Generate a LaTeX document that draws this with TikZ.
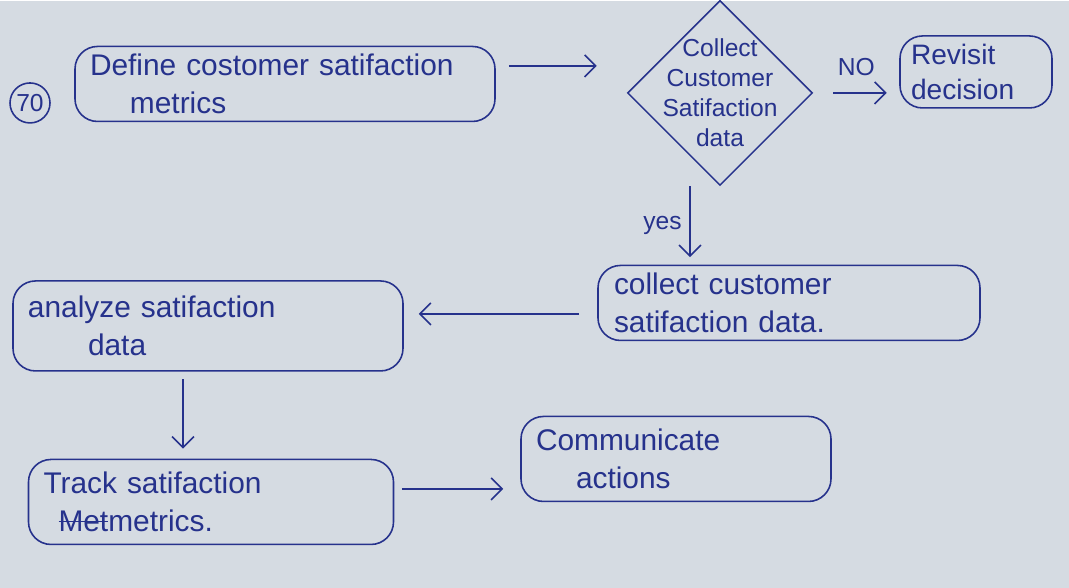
\documentclass[tikz,border=0pt]{standalone}
\usepackage{fontspec}
\setmainfont{Liberation Sans}
\usetikzlibrary{shapes.geometric,arrows.meta}
\definecolor{ink}{RGB}{38,50,140}
\definecolor{paper}{RGB}{213,219,226}
\newcommand{\crossout}[1]{\setbox0\hbox{#1}\rlap{\rule[0.6ex]{\wd0}{0.7pt}}\box0}
\begin{document}
\begin{tikzpicture}[scale=1.0,
    font=\fontsize{17}{22}\selectfont,
    >={Straight Barb[length=2.2mm, width=4.4mm]},
    box/.style={draw=ink, text=ink, line width=0.9pt, rounded corners=0.45cm,
      inner xsep=0.3cm, inner ysep=0pt, align=left},
    arr/.style={->, draw=ink, line width=0.9pt},
  ]
  % paper
  \fill[paper] (0,0) rectangle (21.38,11.74);
  % number
  \node[draw=ink, text=ink, circle, line width=0.9pt, minimum size=0.8cm,
    inner sep=0pt, font=\fontsize{14}{16}\selectfont] (num) at (0.6,9.7) {70};
  % steps
  \node[box, minimum width=8.4cm, minimum height=1.5cm, text width=7.8cm]
    (define) at (5.7,10.08) {Define costomer satifaction\\\hspace*{0.8cm}metrics};
  \node[draw=ink, line width=0.9pt, diamond, aspect=1, minimum size=3.7cm,
    inner sep=0pt,
    label={[text=ink, align=center, font=\fontsize{14}{17}\selectfont]center:Collect\\Customer\\Satifaction\\data}]
    (decide) at (14.4,9.9) {};
  \node[box, minimum width=3.04cm, minimum height=1.44cm, text width=2.6cm,
    inner xsep=0.22cm, font=\fontsize{16}{20}\selectfont]
    (revisit) at (19.52,10.32) {Revisit\\decision};
  \node[box, minimum width=7.64cm, minimum height=1.5cm, text width=7.0cm]
    (collect) at (15.78,5.7) {collect customer\\satifaction data.};
  \node[box, minimum width=7.78cm, minimum height=1.8cm, text width=7.2cm]
    (analyze) at (4.16,5.24) {analyze satifaction\\\hspace*{1.2cm}data};
  \node[box, minimum width=7.26cm, minimum height=1.7cm, text width=6.7cm]
    (track) at (4.22,1.72) {Track satifaction\\\hspace*{0.3cm}\crossout{Met}metrics.};
  \node[box, minimum width=6.16cm, minimum height=1.7cm, text width=5.6cm]
    (comm) at (13.52,2.58) {Communicate\\\hspace*{0.8cm}actions};
  % connectors
  \draw[arr, shorten <=0.26cm, shorten >=0.6cm]
    ([yshift=3.6mm]define.east) -- ([yshift=3.6mm]define.east -| decide.west);
  \draw[arr, shorten <=0.4cm, shorten >=0.25cm]
    (decide.east) -- (decide.east -| revisit.west)
    node[midway, above=6pt, text=ink, font=\fontsize{14}{16}\selectfont] {NO};
  \draw[arr, shorten >=0.15cm]
    ([xshift=-6mm]decide.south) -- ([xshift=-6mm]decide.south |- collect.north)
    node[midway, left=1pt, text=ink, font=\fontsize{14}{16}\selectfont] {yes};
  \draw[arr, shorten <=0.36cm, shorten >=0.3cm]
    ([yshift=-2.2mm]collect.west) -- ([yshift=-2.2mm]collect.west -| analyze.east);
  \draw[arr, shorten <=0.15cm, shorten >=0.2cm]
    ([xshift=-5mm]analyze.south) -- ([xshift=-5mm]analyze.south |- track.north);
  \draw[arr, shorten <=0.15cm, shorten >=0.34cm]
    ([yshift=2.6mm]track.east) -- ([yshift=2.6mm]track.east -| comm.west);
\end{tikzpicture}
\end{document}
